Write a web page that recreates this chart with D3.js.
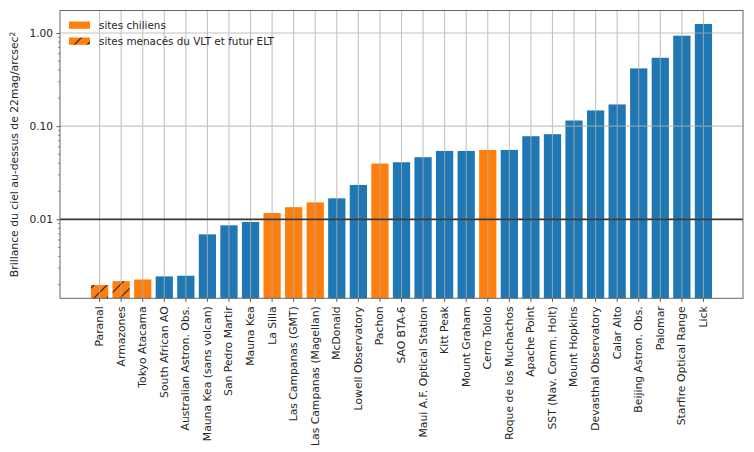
<!DOCTYPE html>
<html><head><meta charset="utf-8">
<script src="https://cdn.jsdelivr.net/npm/d3@7"></script>
<style>body{margin:0;background:#fff}svg{display:block;font-family:"DejaVu Sans",sans-serif}</style>
</head><body><svg id="c" width="754" height="452"></svg>
<script>
const sites = ["Paranal","Armazones","Tokyo Atacama","South African AO","Australian Astron. Obs.","Mauna Kea (sans volcan)","San Pedro Martir","Mauna Kea","La Silla","Las Campanas (GMT)","Las Campanas (Magellan)","McDonald","Lowell Observatory","Pachon","SAO BTA-6","Maui A.F. Optical Station","Kitt Peak","Mount Graham","Cerro Tololo","Roque de los Muchachos","Apache Point","SST (Nav. Comm. Holt)","Mount Hopkins","Devasthal Observatory","Calar Alto","Beijing Astron. Obs.","Palomar","Starfire Optical Range","Lick"];
const brightness = [0.00197,0.00217,0.00226,0.00244,0.00248,0.0069,0.00862,0.00936,0.0117,0.0135,0.0152,0.0168,0.0234,0.0397,0.0410,0.0464,0.0542,0.0542,0.0556,0.0556,0.078,0.082,0.115,0.1475,0.171,0.417,0.542,0.935,1.25];
const chilean = ["Paranal","Armazones","Tokyo Atacama","La Silla","Las Campanas (GMT)","Las Campanas (Magellan)","Pachon","Cerro Tololo"];
const threatened = ["Paranal","Armazones"];
const yTicks = [0.01,0.1,1];
const refLine = 0.01;
const legendLabels = ["sites chiliens","sites menacés du VLT et futur ELT"];

const BLUE="#1f77b4", ORANGE="#ff7f0e";
const svg=d3.select("#c");
const L=60,R=743,T=10.5,B=298.3;
const defs=svg.append("defs");
const P=13;
const pat=defs.append("pattern").attr("id","hatch").attr("patternUnits","userSpaceOnUse").attr("width",P).attr("height",P).attr("x",2).attr("y",0);
pat.append("rect").attr("width",P).attr("height",P).attr("fill",ORANGE);
pat.append("path").attr("d",`M-2,${P+2} L${P+2},-2 M-2,2 L2,-2 M${P-2},${P+2} L${P+2},${P-2}`).attr("stroke","#222").attr("stroke-width",1.1);

const x=d3.scaleBand().domain(sites).range([L,R]).paddingInner(0.2).paddingOuter(1.435);
const y=d3.scaleLog().domain([0.00142,1.744]).range([B,T]);

const data=sites.map((s,i)=>({s,v:brightness[i]}));
svg.append("g").selectAll("rect").data(data).join("rect")
 .attr("x",d=>x(d.s)).attr("width",x.bandwidth())
 .attr("y",d=>y(d.v)).attr("height",d=>B-y(d.v))
 .attr("fill",d=>threatened.includes(d.s)?"url(#hatch)":(chilean.includes(d.s)?ORANGE:BLUE));

// grid on top
const grid=svg.append("g").attr("stroke","#b0b0b0").attr("stroke-width",1.1).attr("opacity",0.75);
grid.selectAll("line.v").data(sites).join("line").attr("class","v")
 .attr("x1",d=>x(d)+x.bandwidth()/2).attr("x2",d=>x(d)+x.bandwidth()/2).attr("y1",T).attr("y2",B);
grid.selectAll("line.h").data(yTicks).join("line").attr("class","h")
 .attr("x1",L).attr("x2",R).attr("y1",d=>y(d)).attr("y2",d=>y(d));

svg.append("line").attr("x1",L).attr("x2",R).attr("y1",y(refLine)).attr("y2",y(refLine)).attr("stroke","#3a3a3a").attr("stroke-width",1.6);

// axes
const xa=svg.append("g").attr("transform",`translate(0,${B})`).call(d3.axisBottom(x).tickSize(3.5).tickPadding(4));
xa.selectAll("text").attr("transform","rotate(-90)").attr("text-anchor","end").attr("x",-8).attr("y",0).attr("dy","0.32em");
const ya=svg.append("g").attr("transform",`translate(${L},0)`).call(d3.axisLeft(y).tickValues(yTicks).tickFormat(d3.format(".2f")).tickSize(3.5).tickPadding(3.5));
// minor ticks
const minor=[];
[0.001,0.01,0.1,1].forEach(dec=>{for(let k=2;k<=9;k++){const v=dec*k;if(v>=0.00142&&v<=1.744)minor.push(v);}});
svg.append("g").selectAll("line").data(minor).join("line").attr("x1",L-2).attr("x2",L).attr("y1",d=>y(d)).attr("y2",d=>y(d)).attr("stroke","#555").attr("stroke-width",0.7);
[xa,ya].forEach(a=>{a.select(".domain").remove();a.selectAll("line").attr("stroke","#555");a.selectAll("text").attr("fill","#262626").style("font-family","DejaVu Sans");});
xa.selectAll("text").style("font-size","10.8px");
ya.selectAll("text").style("font-size","10.6px");
svg.append("rect").attr("x",L).attr("y",T).attr("width",R-L).attr("height",B-T).attr("fill","none").attr("stroke","#666").attr("stroke-width",1);

// y label
svg.append("text").attr("transform",`translate(18,${(T+B)/2}) rotate(-90)`).attr("text-anchor","middle").attr("fill","#262626").style("font-size","10.8px")
 .text("Brillance du ciel au-dessus de 22mag/arcsec").append("tspan").attr("dy","-0.45em").style("font-size","7.5px").text("2");

// legend
const lg=svg.append("g");
const fills=[ORANGE,"url(#hatch)"];
legendLabels.forEach((t,i)=>{
 const yy=21.5+i*16;
 lg.append("rect").attr("x",69).attr("y",yy).attr("width",21).attr("height",7.3).attr("fill",fills[i]);
 lg.append("text").attr("x",99).attr("y",yy+3.6).attr("dy","0.35em").attr("fill","#262626").style("font-size","10.4px").text(t);
});
</script></body></html>
